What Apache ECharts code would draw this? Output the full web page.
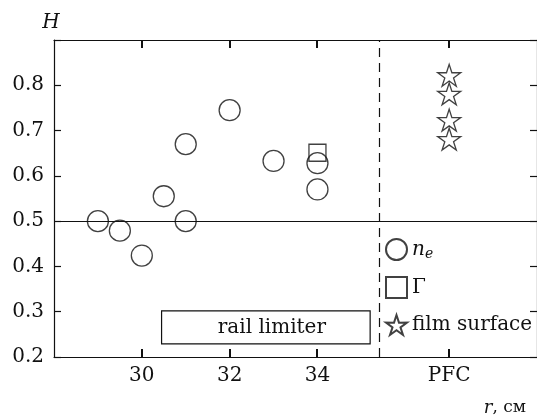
<!DOCTYPE html>
<html>
<head>
<meta charset="utf-8">
<script src="https://cdn.jsdelivr.net/npm/echarts@6/dist/echarts.min.js"></script>
<style>
  html, body { margin: 0; padding: 0; background: #fff; }
  #chart { width: 537px; height: 417px; }
</style>
</head>
<body>
<div id="chart"></div>
<script>
// axes
const xMin = 28, xMax = 39;
const yMin = 0.2, yMax = 0.9;
const xTickValues = [30, 32, 34, 37];
const xTickLabels = ['30', '32', '34', 'PFC'];
const yTickValues = [0.2, 0.3, 0.4, 0.5, 0.6, 0.7, 0.8];

// n_e points
const neR = [29, 29.5, 30, 30.5, 31, 31, 32, 33, 34, 34];
const neH = [0.50, 0.479, 0.424, 0.555, 0.50, 0.670, 0.745, 0.633, 0.628, 0.570];

// Gamma point
const gammaR = [34];
const gammaH = [0.651];

// film surface points (at PFC)
const filmR = [37, 37, 37, 37];
const filmH = [0.822, 0.781, 0.723, 0.681];

// annotations
const levelH = 0.5;
const pfcBoundary = 35.4;
const railLimiterR = [30.45, 35.2];
const railLimiterH = [0.229, 0.302];

const FONT = 'DejaVu Serif';
const BLACK = '#111';
const TICK_LEN = 8;

const starPath = 'path://M50,0L61.17,34.63L97.55,34.55L68.07,55.87L79.39,90.45L50,69L20.61,90.45L31.93,55.87L2.45,34.55L38.83,34.63Z';

const zip = (a, b) => a.map((v, i) => [v, b[i]]);

const chart = echarts.init(document.getElementById('chart'), null, { renderer: 'canvas' });

const tickStyle = { show: true, inside: true, length: 7, lineStyle: { color: BLACK, width: 1.2 } };
const lineStyle = { show: true, onZero: false, lineStyle: { color: BLACK, width: 1.2 } };

const markerStyle = {
    color: 'rgba(0,0,0,0)',
    borderColor: BLACK,
    borderWidth: 1.3
};

// x ticks on the bottom and top frame lines, placed through the axis scale
function renderXTick(params, api) {
    const x = Math.round(api.coord([api.value(0), yMin])[0]);
    const b = api.coord([api.value(0), yMin])[1];
    const t = api.coord([api.value(0), yMax])[1];
    const st = { fill: BLACK };
    return {
        type: 'group',
        children: [
            { type: 'rect', shape: { x: x - 1, y: b - TICK_LEN, width: 2, height: TICK_LEN }, style: st },
            { type: 'rect', shape: { x: x - 1, y: t, width: 2, height: TICK_LEN }, style: st }
        ]
    };
}

const option = {
    animation: false,
    grid: { left: 54, right: -3, top: 40, bottom: 57, containLabel: false },
    legend: {
        orient: 'vertical',
        left: 385,
        top: 238,
        padding: 0,
        itemWidth: 21,
        itemHeight: 21,
        itemGap: 15,
        selectedMode: false,
        data: ['n_e', 'Γ', 'film surface'],
        textStyle: {
            fontFamily: FONT,
            fontSize: 20,
            color: BLACK,
            rich: {
                n: { fontFamily: FONT, fontStyle: 'italic', fontSize: 20, color: BLACK },
                e: { fontFamily: FONT, fontStyle: 'italic', fontSize: 14, color: BLACK, padding: [9, 0, 0, 0] }
            }
        },
        formatter: name => name === 'n_e' ? '{n|n}{e|e}' : name
    },
    xAxis: [
        {
            type: 'value',
            position: 'bottom',
            min: xMin,
            max: xMax,
            axisLine: lineStyle,
            axisTick: { show: false },
            splitLine: { show: false },
            axisLabel: {
                customValues: xTickValues,
                margin: 9,
                fontFamily: FONT,
                fontSize: 20,
                color: BLACK,
                formatter: v => xTickLabels[xTickValues.indexOf(v)]
            },
            name: '{i|r}, см',
            nameLocation: 'end',
            nameGap: -11,
            nameTextStyle: {
                fontFamily: FONT,
                fontSize: 17,
                color: BLACK,
                align: 'right',
                verticalAlign: 'top',
                padding: [42, 0, 0, 0],
                rich: {
                    i: { fontFamily: FONT, fontStyle: 'italic', fontSize: 18, color: BLACK }
                }
            }
        },
        {
            type: 'value',
            position: 'top',
            min: xMin,
            max: xMax,
            axisLine: lineStyle,
            axisTick: { show: false },
            splitLine: { show: false },
            axisLabel: { show: false }
        }
    ],
    yAxis: [
        {
            type: 'value',
            position: 'left',
            min: yMin,
            max: yMax,
            interval: 0.1,
            axisLine: lineStyle,
            axisTick: tickStyle,
            splitLine: { show: false },
            axisLabel: {
                customValues: yTickValues,
                margin: 10,
                fontFamily: FONT,
                fontSize: 20,
                color: BLACK,
                formatter: v => v.toFixed(1)
            },
            name: 'H',
            nameLocation: 'end',
            nameGap: 7,
            nameTextStyle: {
                fontFamily: FONT,
                fontStyle: 'italic',
                fontSize: 20,
                color: BLACK,
                padding: [0, 6, 0, 0]
            }
        },
        {
            type: 'value',
            position: 'right',
            min: yMin,
            max: yMax,
            interval: 0.1,
            axisLine: lineStyle,
            axisTick: tickStyle,
            splitLine: { show: false },
            axisLabel: { show: false }
        }
    ],
    series: [
        {
            name: 'n_e',
            type: 'scatter',
            symbol: 'circle',
            symbolSize: 21,
            itemStyle: markerStyle,
            data: zip(neR, neH),
            z: 5,
            markLine: {
                silent: true,
                symbol: 'none',
                label: { show: false },
                data: [
                    { yAxis: levelH, lineStyle: { type: 'solid', color: BLACK, width: 1.2 } },
                    { xAxis: pfcBoundary, lineStyle: { type: [9, 6], color: BLACK, width: 1.2 } }
                ]
            },
            markArea: {
                silent: true,
                itemStyle: { color: 'rgba(0,0,0,0)', borderColor: BLACK, borderWidth: 1.2 },
                label: {
                    show: true,
                    position: 'inside',
                    fontFamily: FONT,
                    fontSize: 20,
                    color: BLACK,
                    offset: [6, 0]
                },
                data: [[
                    { name: 'rail limiter', coord: [railLimiterR[0], railLimiterH[0]] },
                    { coord: [railLimiterR[1], railLimiterH[1]] }
                ]]
            }
        },
        {
            name: 'Γ',
            type: 'scatter',
            symbol: 'rect',
            symbolSize: 17,
            itemStyle: markerStyle,
            data: zip(gammaR, gammaH),
            z: 4
        },
        {
            name: 'film surface',
            type: 'scatter',
            symbol: starPath,
            symbolKeepAspect: true,
            symbolSize: 23,
            itemStyle: markerStyle,
            data: zip(filmR, filmH),
            z: 5
        },
        {
            name: 'xTicks',
            type: 'custom',
            silent: true,
            clip: false,
            renderItem: renderXTick,
            encode: { x: 0, y: 1 },
            data: xTickValues.map(v => [v, yMin]),
            z: 3
        }
    ]
};

chart.setOption(option);
</script>
</body>
</html>
